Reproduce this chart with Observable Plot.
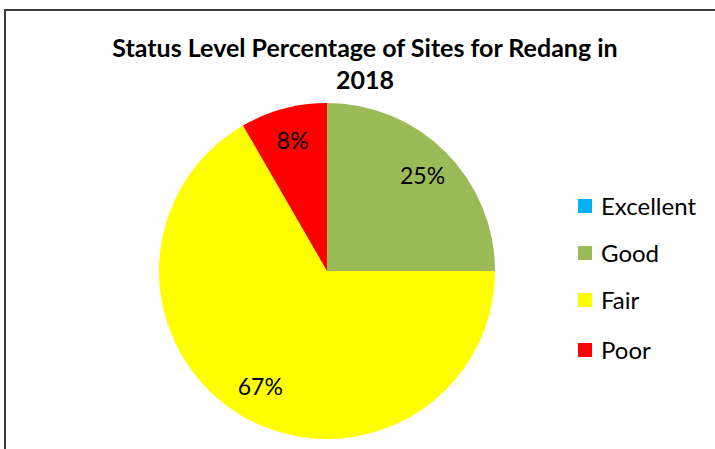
<!DOCTYPE html>
<html>
<head>
<meta charset="utf-8">
<script src="https://cdn.jsdelivr.net/npm/d3@7"></script>
<script src="https://cdn.jsdelivr.net/npm/@observablehq/plot@0.6"></script>
<style>
  html, body { margin: 0; padding: 0; background: #fff; }
  #wrap { position: relative; width: 715px; height: 449px; overflow: hidden; font-family: Lato, "Open Sans", sans-serif; }
  #frame { position: absolute; left: 4px; top: 9px; width: 800px; height: 600px; border: 2px solid #3a3a3a; box-sizing: border-box; }
  .title { position: absolute; left: 0; width: 730px; text-align: center; font-weight: bold; font-size: 25px; line-height: 30px; color: #000; white-space: nowrap; }
  #chart { position: absolute; left: 0; top: 0; }
  .leg { position: absolute; left: 578px; font-size: 24px; line-height: 28px; color: #000; display: flex; align-items: center; white-space: nowrap; }
  .sw { width: 14px; height: 14px; margin-right: 9px; }
</style>
</head>
<body>
<div id="wrap">
  <div id="frame"></div>
  <div id="chart"></div>
  <div class="title" style="top:32px">Status Level Percentage of Sites for Redang in</div>
  <div class="title" style="top:64px">2018</div>
  <div id="legend"></div>
</div>
<script>
const categories = ["Excellent", "Good", "Fair", "Poor"];
const values = [0, 3, 8, 1];
const percentLabels = ["0%", "25%", "67%", "8%"];
const colors = ["#00B0F0", "#9BBB59", "#FFFF00", "#FF0000"];

const data = categories.map((c, i) => ({ label: c, value: values[i], pct: percentLabels[i], color: colors[i] }));
const arcs = d3.pie().sort(null).value(d => d.value)(data);
const labelR = 0.8;
const labels = arcs.filter(a => a.data.value > 0).map(a => {
  const mid = (a.startAngle + a.endAngle) / 2;
  return { x: labelR * Math.sin(mid), y: labelR * Math.cos(mid), text: a.data.pct };
});

function pieMark(index, scales, values, dimensions, context) {
  const cx = scales.x(0), cy = scales.y(0), r = scales.x(1) - scales.x(0);
  const g = d3.create("svg:g").attr("transform", `translate(${cx},${cy})`);
  const arc = d3.arc().innerRadius(0).outerRadius(r);
  g.selectAll("path").data(arcs.filter(a => a.data.value > 0)).join("path")
    .attr("d", arc).attr("fill", d => d.data.color);
  return g.node();
}

const plot = Plot.plot({
  width: 715,
  height: 449,
  marginLeft: 159,
  marginRight: 220,
  marginTop: 103,
  marginBottom: 10,
  x: { domain: [-1, 1], axis: null },
  y: { domain: [-1, 1], axis: null },
  style: { background: "transparent", fontFamily: "Lato, 'Open Sans', sans-serif" },
  marks: [
    pieMark,
    Plot.text(labels, { x: "x", y: "y", text: "text", fontSize: 23, fill: "#000" })
  ]
});
document.getElementById("chart").appendChild(plot);

const legend = document.getElementById("legend");
const legTops = [192, 239, 286, 336];
categories.forEach((c, i) => {
  const row = document.createElement("div");
  row.className = "leg";
  row.style.top = legTops[i] + "px";
  row.innerHTML = `<span class="sw" style="background:${colors[i]}"></span><span>${c}</span>`;
  legend.appendChild(row);
});
</script>
</body>
</html>
